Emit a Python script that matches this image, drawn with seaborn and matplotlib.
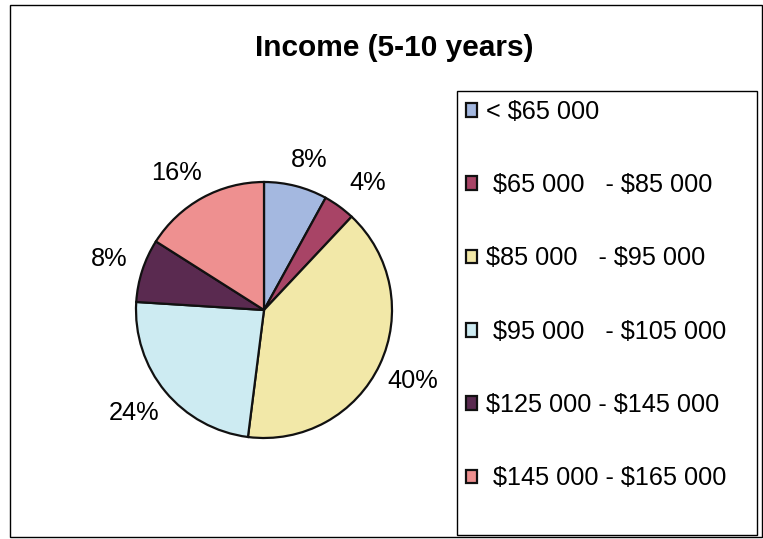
import numpy as np
import matplotlib
matplotlib.use("Agg")
import matplotlib.pyplot as plt
from matplotlib.patches import Rectangle
import seaborn as sns

# Income brackets and share of respondents (%)
brackets = [
    r"< \$65 000",
    r" \$65 000   - \$85 000",
    r"\$85 000   - \$95 000",
    r" \$95 000   - \$105 000",
    r"\$125 000 - \$145 000",
    r" \$145 000 - \$165 000",
]
shares = [8, 4, 40, 24, 8, 16]
colors = ["#A4B8E0", "#A84466", "#F2E8A8", "#CDEBF2", "#5A2A50", "#EE9090"]
title = "Income (5-10 years)"

sns.set_theme(style="white")
plt.rcParams["font.family"] = ["Liberation Sans", "DejaVu Sans"]

W, H, DPI = 763, 539, 100
fig = plt.figure(figsize=(W / DPI, H / DPI), dpi=DPI)
fig.patch.set_facecolor("white")

def fx(px):
    return px / W

def fy(py):
    return 1 - py / H

# outer chart frame
fig.add_artist(Rectangle((fx(10), fy(537)), fx(762) - fx(10), fy(5) - fy(537),
                         transform=fig.transFigure, fill=False,
                         edgecolor="black", linewidth=1.0))

fig.text(fx(394), fy(48), title, ha="center", va="center",
         fontsize=21.5, fontweight="bold", color="black")

# pie axes: centre (264, 310), radius 128 px
cx, cy, r = 264, 310, 128
ax = fig.add_axes([fx(cx - r), fy(cy + r), 2 * r / W, 2 * r / H])
wedges, _ = ax.pie(shares, colors=colors, startangle=90, counterclock=False,
                   wedgeprops=dict(edgecolor="#111111", linewidth=1.6))
ax.set_xlim(-1, 1)
ax.set_ylim(-1, 1)
ax.set_aspect("auto")
ax.axis("off")

# percentage labels just outside each wedge; the text box is pushed away
# from the rim along the wedge's mid-angle
for w, s in zip(wedges, shares):
    ang = np.deg2rad((w.theta1 + w.theta2) / 2)
    c, sn = np.cos(ang), np.sin(ang)
    d = 1.11
    dx = 20 * np.clip(2.0 * c, -1, 1)
    dy = 12 * np.clip(2.0 * sn, -1, 1)
    ax.annotate(f"{s}%", xy=(d * c, d * sn), xytext=(dx, dy),
                textcoords="offset pixels", ha="center", va="center",
                fontsize=18.3, color="black", annotation_clip=False)

# legend box
fig.add_artist(Rectangle((fx(457), fy(535)), fx(757) - fx(457), fy(91) - fy(535),
                         transform=fig.transFigure, fill=False,
                         edgecolor="black", linewidth=1.0))
fig.legend(wedges, brackets, loc="upper left", bbox_to_anchor=(fx(457), fy(91)),
           frameon=False, fontsize=18.2, labelspacing=1.95, handlelength=0.45,
           handleheight=0.45, handletextpad=0.35, borderpad=0.35, borderaxespad=0,
           labelcolor="black")

fig.savefig("out.png", dpi=DPI)
